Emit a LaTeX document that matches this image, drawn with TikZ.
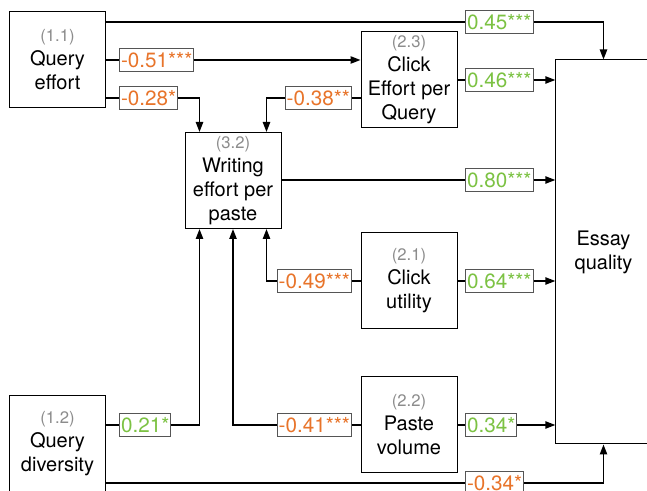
\documentclass[tikz,border=0pt]{standalone}
\usepackage{fontspec}
\setmainfont{TeX Gyre Heros}
\usetikzlibrary{arrows.meta,calc}
\definecolor{orng}{HTML}{E8742A}
\definecolor{grn}{HTML}{7CC243}
\definecolor{idgray}{HTML}{8C8C8C}
\definecolor{lblborder}{HTML}{555555}
\newcommand{\idn}[1]{{\fontsize{12.5}{14}\selectfont\color{idgray}#1}}
\begin{document}
\begin{tikzpicture}[x=0.75pt,y=-0.75pt,
  box/.style={draw=black,line width=0.75pt,fill=white,minimum width=72pt,minimum height=72pt,
    inner sep=0pt,align=center,font=\fontsize{15}{18}\selectfont},
  lbl/.style={draw=lblborder,line width=0.75pt,fill=white,minimum height=17pt,inner xsep=1.2pt,inner ysep=0pt,
    font=\fontsize{15.5}{18}\selectfont},
  neglbl/.style={lbl,text=orng},
  poslbl/.style={lbl,text=grn},
  conn/.style={line width=1.1pt},
  arr/.style={conn,-{Triangle[length=7.5pt,width=5.5pt]}}]
\useasboundingbox (0,0) rectangle (647,491);
\clip (0,0) rectangle (647,491);
% boxes
\node[box] (qe) at (57.5,60) {\idn{(1.1)}\\Query\\effort};
\node[box] (qd) at (57.5,444) {\idn{(1.2)}\\Query\\diversity};
\node[box] (ce) at (409,79.5) {\idn{(2.3)}\\Click\\Effort per\\Query};
\node[box] (wr) at (233,180.5) {\idn{(3.2)}\\Writing\\effort per\\paste};
\node[box] (cu) at (409,281) {\idn{(2.1)}\\Click\\utility};
\node[box] (pv) at (409,425) {\idn{(2.2)}\\Paste\\volume};
\node[box,minimum width=71.5pt,minimum height=288pt] (essay) at (603.5,252) {Essay\\quality};
% labels
\node[poslbl,anchor=west] (L045) at (465,22) {0.45***};
\node[neglbl,anchor=west] (L051) at (119,60) {-0.51***};
\node[neglbl,anchor=west] (L028) at (119,98) {-0.28*};
\node[neglbl,anchor=east] (L038) at (352,98) {-0.38**};
\node[poslbl,anchor=west] (L046) at (465,80) {0.46***};
\node[poslbl,anchor=west] (L080) at (465,180) {0.80***};
\node[neglbl,anchor=east] (L049) at (352,281) {-0.49***};
\node[poslbl,anchor=west] (L064) at (465,281) {0.64***};
\node[neglbl,anchor=east] (L041) at (352,425) {-0.41***};
\node[poslbl,anchor=west] (L034p) at (465,425) {0.34*};
\node[poslbl,anchor=west] (L021) at (119,425) {0.21*};
\node[neglbl,anchor=west] (L034n) at (465,483) {-0.34*};
% anchor points on writing box
\coordinate (wrT1) at ($(wr.north west)+(15,0)$);
\coordinate (wrT2) at ($(wr.north east)+(-15,0)$);
\coordinate (wrB1) at ($(wr.south west)+(15,0)$);
\coordinate (wrB2) at (wr.south);
\coordinate (wrB3) at ($(wr.south east)+(-15,0)$);
% connectors
\draw[conn] (qe.east |- L045) -- (L045.west);
\draw[arr] (L045.east) -| (essay.north);
\draw[conn] (qe.east |- L051) -- (L051.west);
\draw[arr] (L051.east) -- (ce.west |- L051);
\draw[conn] (qe.east |- L028) -- (L028.west);
\draw[arr] (L028.east) -| (wrT1);
\draw[conn] (ce.west |- L038) -- (L038.east);
\draw[arr] (L038.west) -| (wrT2);
\draw[conn] (ce.east |- L046) -- (L046.west);
\draw[arr] (L046.east) -- (essay.west |- L046);
\draw[conn] (wr.east |- L080) -- (L080.west);
\draw[arr] (L080.east) -- (essay.west |- L080);
\draw[conn] (cu.west) -- (L049.east);
\draw[arr] (L049.west) -| (wrB3);
\draw[conn] (cu.east) -- (L064.west);
\draw[arr] (L064.east) -- (essay.west |- L064);
\draw[conn] (pv.west) -- (L041.east);
\draw[arr] (L041.west) -| (wrB2);
\draw[conn] (pv.east) -- (L034p.west);
\draw[arr] (L034p.east) -- (essay.west |- L034p);
\draw[conn] (qd.east |- L021) -- (L021.west);
\draw[arr] (L021.east) -| (wrB1);
\draw[conn] (qd.east |- L034n) -- (L034n.west);
\draw[arr] (L034n.east) -| (essay.south);
\end{tikzpicture}
\end{document}
